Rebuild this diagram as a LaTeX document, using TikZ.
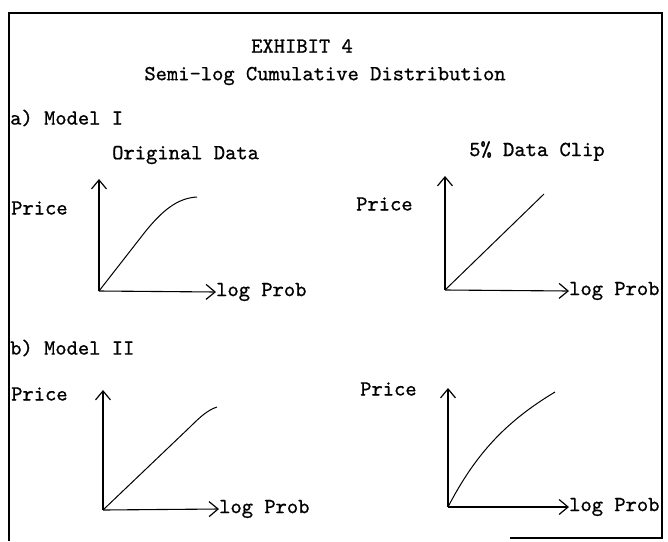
\documentclass[tikz,border=0pt]{standalone}
\usepackage{fontspec}
\setmonofont{lmmono10-regular.otf}[FakeBold=0.8]
\usetikzlibrary{arrows.meta}
\tikzset{
  txt/.style={font=\ttfamily\fontsize{21.5}{24}\selectfont, inner sep=0pt, anchor=west},
  ctxt/.style={font=\ttfamily\fontsize{21.5}{24}\selectfont, inner sep=0pt},
  axis/.style={line width=1.1pt, -{Straight Barb[length=9pt,width=15pt,line width=1.2pt]}},
  curve/.style={line width=1pt},
  frame/.style={line width=1.4pt}
}
\begin{document}
\begin{tikzpicture}[x=1pt,y=-1pt]
\useasboundingbox (0,0) rectangle (668,541);
% frame
\coordinate (tl) at (9,13);
\coordinate (tr) at (662,13);
\coordinate (bl) at (9,541);
\coordinate (br) at (662,538);
\coordinate (bm) at (510,538);
\draw[frame] (bl) -- (tl) -- (tr) -- (br) -- (bm);
% titles
\node[ctxt] (t1) at (302,46) {EXHIBIT 4};
\node[ctxt] (t2) at (325,76) {Semi-log Cumulative Distribution};
\node[txt] (ma) at (10,118) {a) Model I};
\node[txt] (mb) at (10,348) {b) Model II};
\node[txt] (od) at (112,155) {Original Data};
\node[txt] (dc) at (469,151) {5\% Data Clip};
% graph 1
\coordinate (o1) at (99,291);
\coordinate (y1) at (99,179);
\node[txt] (x1) at (216,292) {log Prob};
\node[txt] (p1) at (11,208) {Price};
\draw[axis] (o1) -- (y1);
\draw[axis] (o1) -- (x1.west);
\draw[curve] (o1) -- (145,232) .. controls (165,207) and (180,198) .. (197,197);
% graph 2
\coordinate (o2) at (445,290);
\coordinate (y2) at (445,176);
\node[txt] (x2) at (569,291) {log Prob};
\node[txt] (p2) at (356,204) {Price};
\draw[axis] (o2) -- (y2);
\draw[axis] (o2) -- (x2.west);
\draw[curve] (o2) -- (544,194);
% graph 3
\coordinate (o3) at (103,510);
\coordinate (y3) at (103,390);
\node[txt] (x3) at (219,509) {log Prob};
\node[txt] (p3) at (11,394) {Price};
\draw[axis] (o3) -- (y3);
\draw[axis] (o3) -- (x3.west);
\draw[curve] (o3) -- (190,427) .. controls (201,416) and (208,410) .. (217,407);
% graph 4
\coordinate (o4) at (448,507);
\coordinate (y4) at (448,388);
\node[txt] (x4) at (569,507) {log Prob};
\node[txt] (p4) at (360,389) {Price};
\draw[axis] (o4) -- (y4);
\draw[axis] (o4) -- (x4.west);
\draw[curve] (o4) .. controls (475,455) and (505,422) .. (555,392);
\end{tikzpicture}
\end{document}
